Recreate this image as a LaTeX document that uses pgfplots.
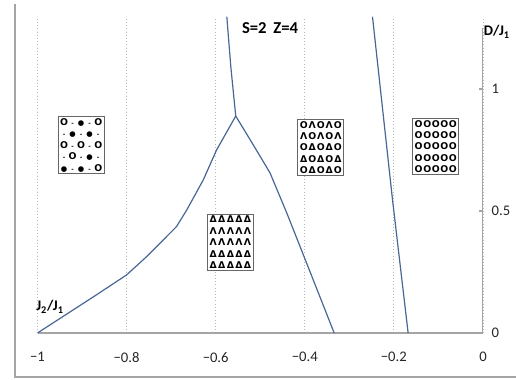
\documentclass[border=0pt]{standalone}
\usepackage{fontspec}
\setmainfont{Carlito}
\newfontfamily\symfont{DejaVu Sans}
\usepackage{pgfplots}
\pgfplotsset{compat=1.18}
\definecolor{curve}{RGB}{72,102,150}
\definecolor{axgray}{RGB}{165,165,165}
\newcommand{\cc}[1]{\makebox[6.4pt]{#1}}
\newcommand{\dd}{{\fontsize{4.5}{4.5}\selectfont -}}
\newcommand{\bb}{{\fontsize{5.5}{5.5}\selectfont ●}}
\begin{document}
\begin{tikzpicture}[x=1pt,y=1pt]
\useasboundingbox (-28.125,-34.5) rectangle (358.875,249.75);
\draw[axgray, line width=0.8pt] (-16.875,246.75) -- (-16.875,-33) -- (400,-33);
\begin{axis}[
  at={(0,0)}, anchor=south west,
  scale only axis, width=334.1pt, height=237.2pt,
  xmin=-1, xmax=0, ymin=0, ymax=1.296,
  axis x line=bottom, axis y line=right,
  axis line style={axgray, line width=1pt, -},
  y axis line style={draw=none},
  xtick={-1,-0.8,-0.6,-0.4,-0.2,0},
  xticklabels={−1,−0.8,−0.6,−0.4,−0.2,0},
  ytick={0,0.5,1}, yticklabels={0,0.5,1},
  xtick style={draw=none},
  ytick style={axgray, line width=0.8pt},
  tick align=inside, major tick length=3pt,
  xmajorgrids, major grid style={axgray!80, dotted, line width=0.7pt},
  ticklabel style={font=\fontsize{11}{13}\selectfont, text=black!85},
  xticklabel style={yshift=-11pt},
  yticklabel style={xshift=3pt},
  clip mode=individual,
]
\addplot[axgray, line width=1pt] coordinates {(0,0) (0,1.25)};
\addplot[curve, line width=0.9pt] coordinates {
  (-1,0) (-0.868,0.156) (-0.8,0.238) (-0.755,0.313) (-0.688,0.436)
  (-0.665,0.504) (-0.628,0.627) (-0.598,0.75) (-0.555,0.889)};
\addplot[curve, line width=0.9pt] coordinates {
  (-0.555,0.889) (-0.516,0.772) (-0.478,0.656) (-0.44,0.49) (-0.396,0.287) (-0.334,0)};
\addplot[curve, line width=0.9pt] coordinates {
  (-0.555,0.889) (-0.566,1.09) (-0.575,1.296)};
\addplot[curve, line width=0.9pt] coordinates {
  (-0.168,0) (-0.203,0.545) (-0.248,1.296)};

\node[font=\bfseries\fontsize{12.5}{12.5}\selectfont] at (axis cs:-0.478,1.25) {S=2\hspace{5pt}Z=4};
\node[font=\bfseries\fontsize{11}{11}\selectfont] at (axis cs:0.031,1.234) {D/J\textsubscript{1}};
\node[font=\bfseries\fontsize{11}{11}\selectfont] at (axis cs:-0.972,0.107) {J\textsubscript{2}/J\textsubscript{1}};

\tikzset{inset/.style={draw=black!60, line width=0.7pt, fill=white, inner sep=1.2pt, align=center,
  font=\symfont\bfseries\fontsize{7}{8.6}\selectfont}}
\node[inset] at (axis cs:-0.902,0.770) {%
\cc{O}\cc{\dd}\cc{\bb}\cc{\dd}\cc{O}\\
\cc{\dd}\cc{\bb}\cc{\dd}\cc{\bb}\cc{\dd}\\
\cc{O}\cc{\dd}\cc{O}\cc{\dd}\cc{O}\\
\cc{\dd}\cc{O}\cc{\dd}\cc{\bb}\cc{\dd}\\
\cc{\bb}\cc{\dd}\cc{\bb}\cc{\dd}\cc{O}};
\node[inset] at (axis cs:-0.364,0.760) {%
\cc{O}\cc{Λ}\cc{O}\cc{Λ}\cc{O}\\
\cc{Λ}\cc{O}\cc{Λ}\cc{O}\cc{Λ}\\
\cc{O}\cc{Δ}\cc{O}\cc{Δ}\cc{O}\\
\cc{Δ}\cc{O}\cc{Δ}\cc{O}\cc{Δ}\\
\cc{O}\cc{Δ}\cc{O}\cc{Δ}\cc{O}};
\node[inset] at (axis cs:-0.106,0.764) {%
\cc{O}\cc{O}\cc{O}\cc{O}\cc{O}\\
\cc{O}\cc{O}\cc{O}\cc{O}\cc{O}\\
\cc{O}\cc{O}\cc{O}\cc{O}\cc{O}\\
\cc{O}\cc{O}\cc{O}\cc{O}\cc{O}\\
\cc{O}\cc{O}\cc{O}\cc{O}\cc{O}};
\node[inset] at (axis cs:-0.567,0.371) {%
\cc{Δ}\cc{Δ}\cc{Δ}\cc{Δ}\cc{Δ}\\
\cc{Λ}\cc{Λ}\cc{Λ}\cc{Λ}\cc{Λ}\\
\cc{Λ}\cc{Λ}\cc{Λ}\cc{Λ}\cc{Λ}\\
\cc{Δ}\cc{Δ}\cc{Δ}\cc{Δ}\cc{Δ}\\
\cc{Δ}\cc{Δ}\cc{Δ}\cc{Δ}\cc{Δ}};
\end{axis}
\end{tikzpicture}
\end{document}
